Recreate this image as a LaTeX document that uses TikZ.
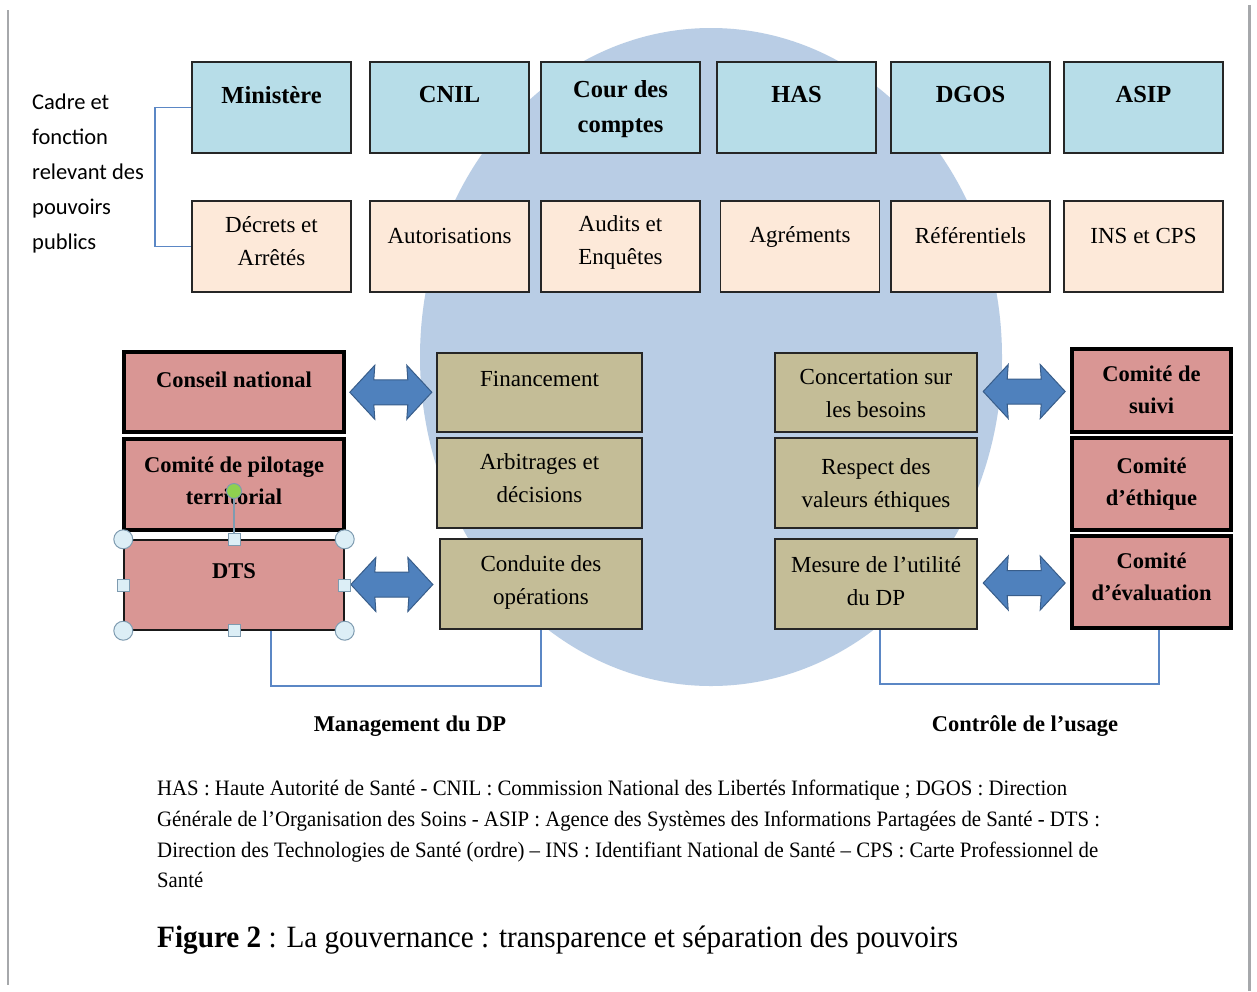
\documentclass[tikz,border=0pt]{standalone}
\usepackage{fontspec}
\usepackage{graphicx}
\setmainfont{Liberation Serif}
\newfontfamily\calibfont{Carlito}
\usetikzlibrary{calc}
\definecolor{cblue}{HTML}{B7DDE8}
\definecolor{cpeach}{HTML}{FDE9D9}
\definecolor{cred}{HTML}{D99694}
\definecolor{colive}{HTML}{C4BD97}
\definecolor{ccirc}{HTML}{B9CDE5}
\definecolor{carrow}{HTML}{4F81BD}
\definecolor{carrowd}{HTML}{385D8A}
\definecolor{cline}{HTML}{5B87C5}
\definecolor{cframe}{HTML}{A6A8AB}
\definecolor{chandle}{HTML}{DCEEF6}
\definecolor{chandled}{HTML}{7E9BB0}
\definecolor{cgreen}{HTML}{8FD14F}
\newcommand{\fitto}[2]{\resizebox{#1}{\height}{#2}}
\tikzset{
  topbox/.style={draw=black!85, line width=1.8pt, fill=cblue, minimum width=159pt, minimum height=91pt, inner sep=0pt},
  secbox/.style={draw=black!85, line width=1.8pt, fill=cpeach, minimum width=159pt, minimum height=91pt, inner sep=0pt},
  redbox/.style={draw=black, line width=3.2pt, fill=cred, inner sep=0pt},
  olivebox/.style={draw=black!85, line width=2pt, fill=colive, inner sep=0pt},
  tbold/.style={font=\fontsize{24.5}{35}\selectfont\bfseries, align=center, inner sep=0pt},
  treg/.style={font=\fontsize{23}{33}\selectfont, align=center, inner sep=0pt},
  tred/.style={font=\fontsize{22.5}{32}\selectfont\bfseries, align=center, inner sep=0pt},
  conn/.style={draw=cline, line width=1.5pt},
  hcircle/.style={circle, draw=chandled, fill=chandle, line width=1pt, minimum size=19pt, inner sep=0pt},
  hsquare/.style={rectangle, draw=chandled, fill=chandle, line width=1pt, minimum size=12pt, inner sep=0pt},
  dblarr/.pic={
    \filldraw[fill=carrow, draw=carrowd, line width=1pt]
      (-41,0) -- (-16,-27) -- (-17,-12.5) -- (17,-12.5) -- (16,-27) -- (41,0)
      -- (16,27) -- (17,12.5) -- (-17,12.5) -- (-16,27) -- cycle;
  }
}
\begin{document}
\begin{tikzpicture}[x=1pt,y=-1pt]
\useasboundingbox (0,0) rectangle (1257,991);
\fill[white] (0,0) rectangle (1257,991);
% page frame lines
\draw[cframe, line width=2.5pt] (8,10) -- (8,985);
\draw[cframe, line width=3pt] (1249,5) -- (1249,991);
% background ellipse
\fill[ccirc] (711,357) ellipse [x radius=291pt, y radius=329pt];

% top row
\node[topbox] (min) at (271.5,107.5) {};
\node[topbox] (cnil) at (449.5,107.5) {};
\node[topbox] (cour) at (620.5,107.5) {};
\node[topbox] (has) at (796.5,107.5) {};
\node[topbox] (dgos) at (970.5,107.5) {};
\node[topbox] (asip) at (1143.5,107.5) {};
\node[tbold] (tmin) at (271.5,95) {Ministère};
\node[tbold] (tcnil) at (449.5,95) {CNIL};
\node[tbold] (tcour) at (620.5,109) {Cour des\\comptes};
\node[tbold] (thas) at (796.5,95) {HAS};
\node[tbold] (tdgos) at (970.5,95) {DGOS};
\node[tbold] (tasip) at (1143.5,95) {ASIP};

% second row
\node[secbox] (dec) at (271.5,246.5) {};
\node[secbox] (aut) at (449.5,246.5) {};
\node[secbox] (aud) at (620.5,246.5) {};
\node[secbox] (agr) at (800,246.5) {};
\node[secbox] (ref) at (970.5,246.5) {};
\node[secbox] (ins) at (1143.5,246.5) {};
\node[treg] (tdec) at (271.5,241) {Décrets et\\Arrêtés};
\node[treg] (taut) at (449.5,236) {Autorisations};
\node[treg] (taud) at (620.5,242) {Audits et\\Enquêtes};
\node[treg] (tagr) at (800,237) {Agréments};
\node[treg] (tref) at (970.5,236) {Référentiels};
\node[treg] (tins) at (1143.5,236) {INS et CPS};

% left label and bracket
\node[font=\fontsize{22.5}{35}\selectfont\calibfont, align=left, anchor=north west, inner sep=0pt] (cadre) at (32,94) {Cadre et\\fonction\\relevant des\\pouvoirs\\publics};
\coordinate (tlb) at (155,0);
\draw[conn] (min.west) -- (min.west -| tlb) -- (dec.west -| tlb) -- (dec.west);

% left red boxes
\node[redbox, minimum width=220pt, minimum height=80pt] (cn) at (234,392) {};
\node[redbox, minimum width=220pt, minimum height=91pt] (cpt) at (234,484.5) {};
\node[draw=black!90, line width=1.4pt, fill=cred, minimum width=220pt, minimum height=90pt, inner sep=0pt] (dts) at (234,585) {};
\node[tred] (tcn) at (234,380) {Conseil national};
\node[tred] (tcpt) at (234,481) {Comité de pilotage\\territorial};
\node[tred] (tdts) at (234,571) {DTS};

% left olive boxes
\node[olivebox, minimum width=205pt, minimum height=79pt] (fin) at (539.5,392.5) {};
\node[olivebox, minimum width=205pt, minimum height=90pt] (arb) at (539.5,483) {};
\node[olivebox, minimum width=202pt, minimum height=90pt] (cond) at (541,584) {};
\node[treg] (tfin) at (539.5,379) {Financement};
\node[treg] (tarb) at (539.5,478) {Arbitrages et\\décisions};
\node[treg] (tcond) at (541,582) {Conduite des\\opérations};

% right olive boxes
\node[olivebox, minimum width=202pt, minimum height=79pt] (conc) at (876,392.5) {};
\node[olivebox, minimum width=202pt, minimum height=90pt] (resp) at (876,483) {};
\node[olivebox, minimum width=202pt, minimum height=90pt] (mes) at (876,584) {};
\node[treg] (tconc) at (876,393) {Concertation sur\\les besoins};
\node[treg] (tresp) at (876,485) {Respect des\\valeurs éthiques};
\node[treg] (tmes) at (876,581) {Mesure de l’utilité\\du DP};

% right red boxes
\node[redbox, minimum width=159pt, minimum height=83pt] (suivi) at (1151.5,390.5) {};
\node[redbox, minimum width=159pt, minimum height=92pt] (ceth) at (1151.5,484) {};
\node[redbox, minimum width=159pt, minimum height=92pt] (ceval) at (1151.5,582) {};
\node[tred] (tsuivi) at (1151.5,390) {Comité de\\suivi};
\node[tred] (tceth) at (1151.5,484) {Comité\\d’éthique};
\node[tred] (tceval) at (1151.5,577) {Comité\\d’évaluation};

% double arrows
\pic at ($(cn.east)!0.5!(fin.west)$) {dblarr};
\pic at ($(dts.east)!0.5!(cond.west)$) {dblarr};
\pic at ($(conc.east)!0.5!(suivi.west)$) {dblarr};
\pic at ($(mes.east)!0.5!(ceval.west)$) {dblarr};

% brackets
\coordinate (lbk) at (271,686);
\draw[conn] (dts.south -| lbk) -- (lbk) -| (cond.south);
\coordinate (rbk) at (880,684);
\coordinate (rbk2) at (1159,684);
\draw[conn] (mes.south -| rbk) -- (rbk) -- (rbk2) -- (ceval.south -| rbk2);

% selection handles on DTS
\node[circle, draw=chandled, fill=cgreen, line width=1pt, minimum size=15pt, inner sep=0pt] (rot) at (234,491) {};
\draw[chandled, line width=1.2pt] (rot.south) -- (dts.north);
\node[hcircle] (h1) at (dts.north west) {};
\node[hcircle] (h2) at (dts.north east) {};
\node[hcircle] (h3) at (dts.south west) {};
\node[hcircle] (h4) at (dts.south east) {};
\node[hsquare] (h5) at (dts.north) {};
\node[hsquare] (h6) at (dts.south) {};
\node[hsquare] (h7) at (dts.west) {};
\node[hsquare] (h8) at (dts.east) {};

% group labels
\node[font=\fontsize{22.5}{27}\selectfont\bfseries, anchor=base, inner sep=0pt] (mgmt) at (410,731) {Management du DP};
\node[font=\fontsize{22.5}{27}\selectfont\bfseries, anchor=base, inner sep=0pt] (ctrl) at (1025,731) {Contrôle de l’usage};

% footnote
\node[font=\fontsize{22}{24}\selectfont, anchor=base west, inner sep=0pt] (fn1) at (157,795) {\fitto{910pt}{HAS : Haute Autorité de Santé - CNIL : Commission National des Libertés Informatique ; DGOS : Direction}};
\node[font=\fontsize{22}{24}\selectfont, anchor=base west, inner sep=0pt] (fn2) at (157,826) {\fitto{943pt}{Générale de l’Organisation des Soins - ASIP : Agence des Systèmes des Informations Partagées de Santé - DTS :}};
\node[font=\fontsize{22}{24}\selectfont, anchor=base west, inner sep=0pt] (fn3) at (157,857) {\fitto{941pt}{Direction des Technologies de Santé (ordre) – INS : Identifiant National de Santé – CPS : Carte Professionnel de}};
\node[font=\fontsize{22}{24}\selectfont, anchor=base west, inner sep=0pt] (fn4) at (157,887) {\fitto{46pt}{Santé}};

% caption
\node[font=\fontsize{31}{36}\selectfont, anchor=base west, inner sep=0pt] (cap) at (157,947) {\fitto{801pt}{\textbf{Figure 2} : La gouvernance : transparence et séparation des pouvoirs}};
\end{tikzpicture}
\end{document}
